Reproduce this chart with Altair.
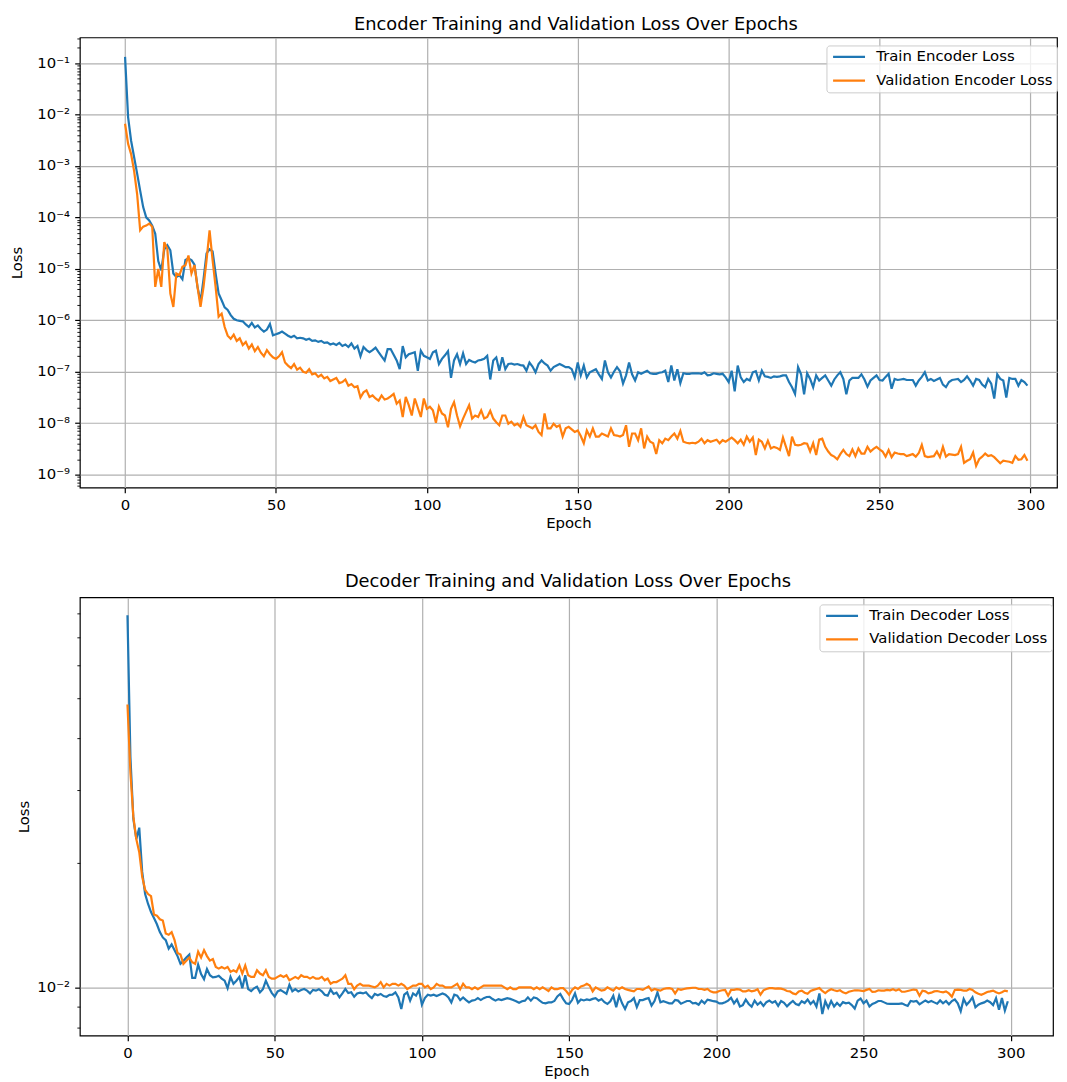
import altair as alt
import pandas as pd

epochs = list(range(300))

# Encoder losses, read as log10 values from the log-scale chart
enc_train_log10 = [
    -0.88, -2.05, -2.51, -2.83, -3.15, -3.48, -3.80, -4.00, -4.06, -4.16,
    -4.32, -4.85, -5.03, -4.62, -4.54, -4.64, -5.09, -5.16, -5.12, -5.20,
    -4.83, -4.80, -4.83, -4.92, -5.35, -5.64, -5.20, -4.70, -4.62, -4.66,
    -5.09, -5.48, -5.61, -5.75, -5.80, -5.90, -5.97, -6.00, -6.01, -6.02,
    -6.08, -6.13, -6.05, -6.14, -6.10, -6.17, -6.22, -6.18, -6.07, -6.29,
    -6.27, -6.25, -6.22, -6.26, -6.30, -6.33, -6.30, -6.35, -6.34, -6.35,
    -6.38, -6.36, -6.40, -6.39, -6.42, -6.40, -6.44, -6.43, -6.47, -6.45,
    -6.48, -6.44, -6.50, -6.47, -6.52, -6.45, -6.55, -6.50, -6.70, -6.52,
    -6.58, -6.62, -6.58, -6.53, -6.62, -6.70, -6.78, -6.56, -6.56, -6.67,
    -6.78, -6.95, -6.50, -6.72, -6.66, -6.64, -6.62, -6.98, -6.59, -6.69,
    -6.72, -6.75, -6.62, -6.59, -6.85, -6.75, -6.68, -6.60, -7.12, -6.78,
    -6.66, -6.85, -6.64, -6.85, -6.77, -6.80, -6.82, -6.78, -6.77, -6.75,
    -6.69, -7.15, -6.78, -6.72, -6.98, -6.72, -6.95, -6.85, -6.84, -6.86,
    -6.85, -6.87, -6.88, -6.98, -6.82, -6.90, -7.01, -6.85, -6.78, -6.84,
    -6.88, -6.98, -6.91, -6.88, -6.85, -6.88, -6.91, -6.91, -6.95, -7.11,
    -6.82, -7.07, -6.88, -7.11, -7.01, -6.98, -6.95, -7.05, -7.14, -6.78,
    -7.01, -7.11, -7.00, -6.91, -6.99, -7.23, -7.07, -6.82, -7.05, -7.17,
    -7.01, -7.04, -7.01, -6.98, -7.03, -7.04, -7.04, -7.02, -7.01, -6.98,
    -7.20, -6.88, -7.17, -6.95, -7.22, -7.03, -7.04, -7.04, -7.03, -7.03,
    -7.03, -7.04, -7.01, -7.07, -7.06, -7.03, -7.04, -7.05, -7.04, -7.11,
    -7.20, -6.98, -7.38, -6.88, -7.11, -7.20, -7.14, -7.17, -7.01, -6.99,
    -7.17, -6.98, -7.09, -7.10, -7.12, -7.09, -7.10, -7.09, -7.07, -7.07,
    -7.20, -7.30, -7.43, -6.91, -7.05, -7.44, -7.03, -7.14, -7.30, -7.07,
    -7.17, -7.12, -7.07, -7.17, -7.27, -7.15, -7.07, -7.01, -7.14, -7.44,
    -7.17, -7.12, -7.12, -7.12, -7.05, -7.15, -7.29, -7.17, -7.12, -7.07,
    -7.16, -7.17, -7.10, -7.04, -7.33, -7.14, -7.16, -7.15, -7.14, -7.16,
    -7.16, -7.16, -7.27, -7.17, -7.10, -7.01, -7.17, -7.14, -7.18, -7.15,
    -7.12, -7.25, -7.30, -7.20, -7.16, -7.15, -7.14, -7.20, -7.16, -7.09,
    -7.17, -7.27, -7.14, -7.16, -7.25, -7.30, -7.14, -7.23, -7.52, -7.05,
    -7.14, -7.17, -7.50, -7.12, -7.14, -7.14, -7.27, -7.16, -7.20, -7.27,
]

enc_val_log10 = [
    -2.18, -2.57, -2.77, -3.10, -3.55, -4.25, -4.18, -4.16, -4.12, -4.18,
    -5.35, -5.00, -5.35, -4.48, -4.61, -5.48, -5.74, -5.09, -5.12, -4.96,
    -4.93, -4.74, -5.09, -4.93, -5.35, -5.74, -5.35, -4.83, -4.25, -4.83,
    -5.35, -5.93, -5.87, -6.13, -6.30, -6.36, -6.28, -6.40, -6.35, -6.48,
    -6.42, -6.55, -6.47, -6.60, -6.52, -6.63, -6.70, -6.58, -6.66, -6.72,
    -6.75, -6.70, -6.62, -6.82, -6.88, -6.93, -6.85, -6.96, -6.92, -7.00,
    -7.02, -6.95, -7.05, -7.03, -7.10, -7.06, -7.13, -7.10, -7.18, -7.15,
    -7.12, -7.22, -7.20, -7.15, -7.27, -7.24, -7.30, -7.28, -7.50, -7.40,
    -7.36, -7.49, -7.46, -7.52, -7.56, -7.46, -7.54, -7.52, -7.48, -7.43,
    -7.62, -7.56, -7.88, -7.49, -7.65, -7.85, -7.52, -7.70, -7.88, -7.52,
    -7.72, -7.68, -7.75, -7.99, -7.68, -7.81, -7.85, -8.08, -7.72, -7.59,
    -7.85, -8.06, -7.91, -7.78, -7.65, -7.91, -7.85, -7.88, -7.75, -7.91,
    -7.88, -7.76, -7.91, -7.98, -8.04, -7.85, -7.85, -8.01, -7.97, -8.04,
    -8.01, -8.07, -7.88, -8.04, -8.07, -8.10, -8.04, -8.17, -8.23, -7.81,
    -8.10, -8.10, -8.01, -8.07, -8.04, -8.26, -8.10, -8.07, -8.12, -8.17,
    -8.14, -8.25, -8.39, -8.14, -8.26, -8.10, -8.26, -8.26, -8.20, -8.23,
    -8.26, -8.10, -8.23, -8.24, -8.26, -8.23, -8.04, -8.46, -8.20, -8.20,
    -8.33, -8.10, -8.49, -8.26, -8.36, -8.39, -8.60, -8.33, -8.39, -8.30,
    -8.33, -8.26, -8.20, -8.30, -8.15, -8.36, -8.38, -8.39, -8.38, -8.39,
    -8.36, -8.30, -8.39, -8.33, -8.36, -8.34, -8.32, -8.39, -8.33, -8.36,
    -8.32, -8.28, -8.33, -8.39, -8.32, -8.42, -8.26, -8.36, -8.28, -8.62,
    -8.32, -8.36, -8.49, -8.34, -8.49, -8.46, -8.48, -8.52, -8.28, -8.46,
    -8.64, -8.26, -8.42, -8.43, -8.42, -8.39, -8.40, -8.55, -8.39, -8.62,
    -8.32, -8.30, -8.46, -8.55, -8.62, -8.65, -8.70, -8.60, -8.52, -8.60,
    -8.64, -8.51, -8.64, -8.49, -8.59, -8.59, -8.46, -8.55, -8.50, -8.46,
    -8.51, -8.55, -8.65, -8.52, -8.66, -8.57, -8.59, -8.60, -8.60, -8.64,
    -8.62, -8.60, -8.65, -8.58, -8.42, -8.64, -8.66, -8.65, -8.64, -8.55,
    -8.66, -8.46, -8.65, -8.60, -8.61, -8.62, -8.60, -8.46, -8.77, -8.73,
    -8.70, -8.57, -8.83, -8.70, -8.65, -8.59, -8.64, -8.62, -8.66, -8.72,
    -8.78, -8.73, -8.74, -8.75, -8.77, -8.64, -8.71, -8.70, -8.62, -8.73,
]

dec_train = [
    0.0791, 0.0360, 0.0255, 0.0228, 0.0243, 0.0190, 0.0168, 0.0159, 0.0152, 0.0147,
    0.0142, 0.0136, 0.0132, 0.0130, 0.0124, 0.0127, 0.0123, 0.0119, 0.0114, 0.0116,
    0.0118, 0.0120, 0.01054, 0.01054, 0.01135, 0.01077, 0.01047, 0.01107, 0.01070, 0.01057,
    0.01060, 0.01067, 0.01050, 0.01038, 0.00995, 0.01060, 0.01020, 0.01038, 0.01060, 0.00995,
    0.01070, 0.00990, 0.00980, 0.00995, 0.01004, 0.00973, 0.00990, 0.01038, 0.01000, 0.00970,
    0.00950, 0.00978, 0.00985, 0.00975, 0.00965, 0.01014, 0.00978, 0.00990, 0.00978, 0.00986,
    0.00991, 0.00982, 0.00967, 0.00986, 0.00982, 0.00990, 0.00978, 0.00960, 0.00955, 0.00988,
    0.00964, 0.00971, 0.00946, 0.00967, 0.00991, 0.00969, 0.00973, 0.00949, 0.00967, 0.00971,
    0.00967, 0.00973, 0.00955, 0.00942, 0.00964, 0.00957, 0.00964, 0.00953, 0.00949, 0.00959,
    0.00960, 0.00973, 0.00946, 0.00887, 0.00960, 0.00973, 0.00929, 0.00967, 0.00955, 0.00986,
    0.00908, 0.00942, 0.00960, 0.00955, 0.00960, 0.00953, 0.00960, 0.00967, 0.00960, 0.00946,
    0.00920, 0.00960, 0.00955, 0.00932, 0.00946, 0.00932, 0.00920, 0.00929, 0.00932, 0.00942,
    0.00932, 0.00942, 0.00948, 0.00949, 0.00937, 0.00929, 0.00937, 0.00932, 0.00937, 0.00942,
    0.00938, 0.00932, 0.00926, 0.00918, 0.00926, 0.00929, 0.00946, 0.00929, 0.00946, 0.00942,
    0.00929, 0.00918, 0.00915, 0.00920, 0.00920, 0.00927, 0.00951, 0.00964, 0.00937, 0.00915,
    0.00912, 0.00932, 0.00967, 0.00918, 0.00935, 0.00930, 0.00935, 0.00932, 0.00938, 0.00942,
    0.00929, 0.00937, 0.00921, 0.00912, 0.00926, 0.00955, 0.00896, 0.00955, 0.00915, 0.00887,
    0.00920, 0.00927, 0.00942, 0.00896, 0.00932, 0.00932, 0.00938, 0.00942, 0.00904, 0.00927,
    0.00973, 0.00920, 0.00926, 0.00921, 0.00915, 0.00915, 0.00932, 0.00929, 0.00913, 0.00920,
    0.00927, 0.00927, 0.00915, 0.00917, 0.00908, 0.00929, 0.00915, 0.00934, 0.00930, 0.00926,
    0.00924, 0.00915, 0.00915, 0.00921, 0.00929, 0.00944, 0.00915, 0.00935, 0.00899, 0.00906,
    0.00934, 0.00912, 0.00898, 0.00929, 0.00908, 0.00921, 0.00902, 0.00921, 0.00929, 0.00918,
    0.00926, 0.00902, 0.00927, 0.00918, 0.00900, 0.00915, 0.00927, 0.00912, 0.00906, 0.00926,
    0.00917, 0.00935, 0.00912, 0.00927, 0.00899, 0.00967, 0.00862, 0.00926, 0.00893, 0.00927,
    0.00899, 0.00917, 0.00902, 0.00921, 0.00915, 0.00918, 0.00906, 0.00889, 0.00929, 0.00940,
    0.00915, 0.00929, 0.00899, 0.00912, 0.00918, 0.00927, 0.00927, 0.00920, 0.00913, 0.00912,
    0.00912, 0.00912, 0.00912, 0.00915, 0.00908, 0.00902, 0.00927, 0.00924, 0.00927, 0.00910,
    0.00920, 0.00930, 0.00921, 0.00927, 0.00920, 0.00913, 0.00930, 0.00915, 0.00927, 0.00910,
    0.00927, 0.00935, 0.00915, 0.00876, 0.00938, 0.00908, 0.00924, 0.00946, 0.00895, 0.00908,
    0.00915, 0.00920, 0.00929, 0.00921, 0.00906, 0.00942, 0.00883, 0.00942, 0.00879, 0.00926,
]

dec_val = [
    0.0482, 0.0330, 0.0258, 0.0228, 0.0212, 0.0185, 0.0172, 0.0168, 0.0166, 0.0150,
    0.0149, 0.0146, 0.0145, 0.0135, 0.0134, 0.0136, 0.0130, 0.0121, 0.0120, 0.0114,
    0.0116, 0.0118, 0.0115, 0.0114, 0.0122, 0.0118, 0.0123, 0.0119, 0.0116, 0.0117,
    0.0112, 0.0111, 0.0112, 0.0111, 0.0112, 0.0109, 0.0110, 0.0109, 0.0113, 0.0108,
    0.0113, 0.0107, 0.0106, 0.0106, 0.0110, 0.0108, 0.0107, 0.0110, 0.0106, 0.0105,
    0.0105, 0.0106, 0.0107, 0.0106, 0.0107, 0.0104, 0.0105, 0.0106, 0.0105, 0.0107,
    0.0106, 0.0106, 0.0105, 0.0106, 0.0105, 0.0105, 0.0106, 0.0104, 0.0105, 0.0102,
    0.0103, 0.0103, 0.0104, 0.0105, 0.0107, 0.0102, 0.0102, 0.0099, 0.0101, 0.0102,
    0.0101, 0.0101, 0.0101, 0.01005, 0.0100, 0.0101, 0.0103, 0.0100, 0.0102, 0.0101,
    0.0102, 0.0102, 0.0101, 0.0102, 0.0101, 0.0099, 0.0100, 0.0101, 0.0101, 0.0102,
    0.0102, 0.0100, 0.0101, 0.0099, 0.0100, 0.0102, 0.0101, 0.0101, 0.0100, 0.0100,
    0.0100, 0.0101, 0.0102, 0.0099, 0.0102, 0.0100, 0.0100, 0.0099, 0.0100, 0.0099,
    0.0100, 0.0101, 0.0101, 0.0101, 0.0101, 0.0101, 0.0101, 0.0101, 0.0100, 0.0099,
    0.0100, 0.0099, 0.0099, 0.0100, 0.0100, 0.0100, 0.0100, 0.0100, 0.0099, 0.0100,
    0.0099, 0.0100, 0.0099, 0.0098, 0.0100, 0.0099, 0.0099, 0.00996, 0.00996, 0.0098,
    0.0096, 0.00986, 0.0100, 0.00991, 0.01005, 0.0101, 0.0102, 0.0101, 0.00978, 0.0100,
    0.00991, 0.00982, 0.00986, 0.0100, 0.00991, 0.00982, 0.0100, 0.00991, 0.0100, 0.00991,
    0.00986, 0.00982, 0.00978, 0.00991, 0.00991, 0.00986, 0.00996, 0.01005, 0.00982, 0.00991,
    0.00986, 0.00982, 0.00991, 0.00994, 0.00996, 0.00991, 0.00967, 0.00991, 0.00986, 0.00991,
    0.00994, 0.00996, 0.00998, 0.00998, 0.00991, 0.00991, 0.00986, 0.00991, 0.00978, 0.00973,
    0.00973, 0.00980, 0.00984, 0.00986, 0.00955, 0.00986, 0.00986, 0.00990, 0.00988, 0.00978,
    0.00978, 0.00984, 0.00978, 0.00982, 0.00990, 0.00960, 0.00984, 0.00991, 0.00996, 0.00996,
    0.00993, 0.00994, 0.00993, 0.00988, 0.00980, 0.00978, 0.00967, 0.00962, 0.00978, 0.00982,
    0.00971, 0.00965, 0.00980, 0.00986, 0.00991, 0.00996, 0.00980, 0.00969, 0.00982, 0.00990,
    0.00984, 0.00980, 0.00984, 0.00973, 0.00967, 0.00976, 0.00980, 0.00984, 0.00984, 0.00982,
    0.00980, 0.00986, 0.00991, 0.00975, 0.00976, 0.00984, 0.00982, 0.00982, 0.00986, 0.00984,
    0.00990, 0.00982, 0.00990, 0.00976, 0.00976, 0.00980, 0.00984, 0.00988, 0.00986, 0.00955,
    0.00982, 0.00978, 0.00967, 0.00971, 0.00978, 0.00980, 0.00976, 0.00973, 0.00978, 0.00967,
    0.00949, 0.00986, 0.00988, 0.00986, 0.00982, 0.00982, 0.00991, 0.00986, 0.00973, 0.00965,
    0.00960, 0.00967, 0.00975, 0.00978, 0.00982, 0.00973, 0.00967, 0.00973, 0.00982, 0.00978,
]

for arr in (enc_train_log10, enc_val_log10, dec_train, dec_val):
    assert len(arr) == len(epochs), len(arr)

enc_series = ["Train Encoder Loss", "Validation Encoder Loss"]
dec_series = ["Train Decoder Loss", "Validation Decoder Loss"]
colors = ["#1f77b4", "#ff7f0e"]
x_ticks = [0, 50, 100, 150, 200, 250, 300]

enc_df = pd.DataFrame({
    "epoch": epochs * 2,
    "loss": [10 ** v for v in enc_train_log10] + [10 ** v for v in enc_val_log10],
    "series": [enc_series[0]] * 300 + [enc_series[1]] * 300,
})
dec_df = pd.DataFrame({
    "epoch": epochs * 2,
    "loss": dec_train + dec_val,
    "series": [dec_series[0]] * 300 + [dec_series[1]] * 300,
})

FONT = "DejaVu Sans"
FS = 14.9
LW = 2.2


def log_ticks(lo, hi):
    out = []
    for e in range(-12, 2):
        for m in range(1, 10):
            v = float(f"{m}e{e}")
            if lo <= v <= hi:
                out.append(v)
    return out


MAJ = "abs(log(datum.value)/LN10 - round(log(datum.value)/LN10)) < 0.001"
SUP = "'\u2070\u00b9\u00b2\u00b3\u2074\u2075\u2076\u2077\u2078\u2079'"
EXP = "(-round(log(datum.value)/LN10))"
LABEL_EXPR = f"({MAJ}) ? '10\u207b' + substring({SUP}, {EXP}, {EXP} + 1) : ''"


def y_axis(title_pad, values):
    return alt.Axis(
        title="Loss",
        titlePadding=title_pad,
        values=values,
        labelExpr=LABEL_EXPR,
        labelOverlap=False,
        tickSize={"condition": {"test": MAJ, "value": 5.2}, "value": 3.0},
        tickWidth={"condition": {"test": MAJ, "value": 1.2}, "value": 0.9},
        gridOpacity={"condition": {"test": MAJ, "value": 1}, "value": 0},
    )


def x_axis(label_pad, title_pad):
    return alt.Axis(title="Epoch", values=x_ticks, labelFlush=False,
                    labelOverlap=False, labelPadding=label_pad, titlePadding=title_pad)


def legend(x, y):
    return alt.Legend(
        title=None, orient="none", legendX=x, legendY=y,
        symbolType="M-1.2,0H6.8", symbolSize=64, symbolStrokeWidth=LW,
        symbolFillColor="transparent",
        labelFont=FONT, labelFontSize=FS, labelColor="black", labelLimit=400,
        labelOffset=31, rowPadding=7.7,
        fillColor="rgba(255,255,255,0.8)", strokeColor="#cccccc",
        cornerRadius=3, padding=4,
    )


enc_lo, enc_hi = 5.6e-10, 0.314
dec_lo, dec_hi = 0.00765, 0.0874

top = alt.Chart(enc_df).mark_line(strokeWidth=LW).encode(
    x=alt.X("epoch:Q", scale=alt.Scale(domain=[-14.98, 308.8], nice=False, zero=False),
            axis=x_axis(5.2, 3)),
    y=alt.Y("loss:Q", scale=alt.Scale(type="log", domain=[enc_lo, enc_hi], nice=False),
            axis=y_axis(12, log_ticks(enc_lo, enc_hi))),
    color=alt.Color("series:N", scale=alt.Scale(domain=enc_series, range=colors),
                    legend=legend(748, 8)),
).properties(
    width=979, height=451,
    title=alt.TitleParams("Encoder Training and Validation Loss Over Epochs", dx=7.5, offset=-3),
)

bottom = alt.Chart(dec_df).mark_line(strokeWidth=LW).encode(
    x=alt.X("epoch:Q", scale=alt.Scale(domain=[-16.17, 314.35], nice=False, zero=False),
            axis=x_axis(4.8, 3)),
    y=alt.Y("loss:Q", scale=alt.Scale(type="log", domain=[dec_lo, dec_hi], nice=False),
            axis=y_axis(5, log_ticks(dec_lo, dec_hi))),
    color=alt.Color("series:N", scale=alt.Scale(domain=dec_series, range=colors),
                    legend=legend(741, 7)),
).properties(
    width=975, height=439,
    title=alt.TitleParams("Decoder Training and Validation Loss Over Epochs", dx=1.5, offset=7),
)

chart = alt.vconcat(top, bottom, spacing=40).resolve_scale(
    color="independent", x="independent", y="independent"
).resolve_legend(color="independent").properties(
    padding={"left": 1, "top": 5.5, "right": 0, "bottom": 0},
).configure_view(
    stroke="black", strokeWidth=1.2,
).configure_axis(
    labelFont=FONT, labelFontSize=FS, labelColor="black",
    titleFont=FONT, titleFontSize=FS, titleFontWeight="normal", titleColor="black",
    domain=False, tickColor="black", tickWidth=1.2, tickSize=5.2, labelPadding=5.2,
    gridColor="#b0b0b0", gridWidth=1.2,
).configure_title(
    font=FONT, fontSize=17.85, fontWeight="normal", color="black",
    anchor="middle", frame="group",
)

chart.save("out.html", embed_options={"renderer": "svg", "actions": False})
